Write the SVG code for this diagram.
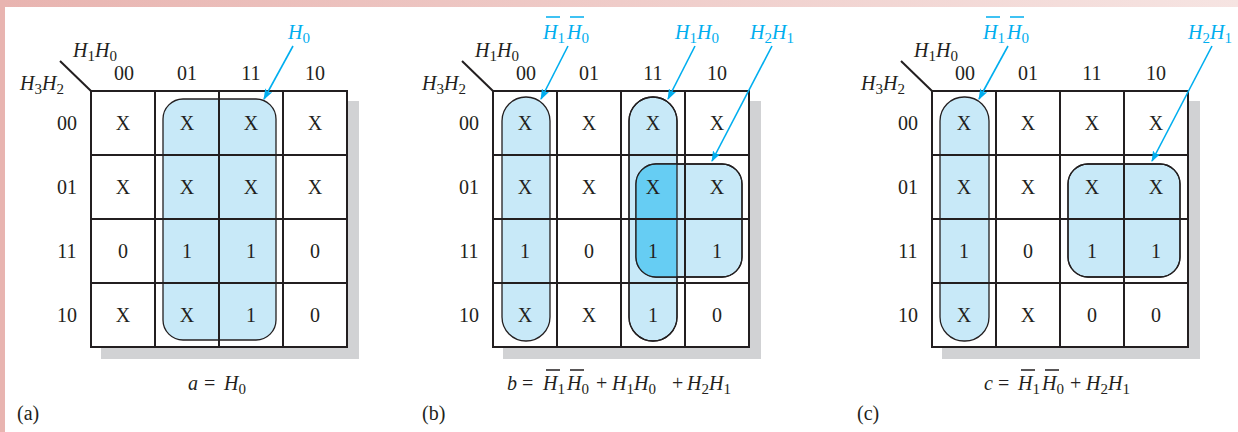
<svg xmlns="http://www.w3.org/2000/svg" width="1238" height="432" viewBox="0 0 1238 432">
<defs>
<linearGradient id="pinkband" x1="0" y1="0" x2="1" y2="0">
<stop offset="0" stop-color="#e8b4b0"/>
<stop offset="1" stop-color="#f6e4e2"/>
</linearGradient>
<marker id="ah" markerWidth="11" markerHeight="8" refX="10" refY="4" orient="auto" markerUnits="userSpaceOnUse">
<path d="M0,0 L11,4 L0,8 L2.5,4 z" fill="#00aeef"/>
</marker>
<clipPath id="clipSqB"><rect x="234" y="164" width="106" height="113" rx="20"/></clipPath>
<style>
.t{font-family:"Liberation Serif","Times New Roman",serif;font-size:20px;fill:#231f20}
.i{font-style:italic}
.s{font-size:15px;font-style:normal}
.blue{fill:#00aeef}
.c{text-anchor:middle}
.grid{fill:none;stroke:#231f20;stroke-width:2}
.shadow{fill:#d1d2d4}
.loop{fill:#c8e9f8;stroke:#231f20;stroke-width:1.3}
.dark{fill:#66cdf3}
.ol{fill:none;stroke:#231f20;stroke-width:1.3}
.arrow{stroke:#00aeef;stroke-width:1.6;fill:none;marker-end:url(#ah)}
.bar{stroke:#00aeef;stroke-width:1.3}
.barK{stroke:#231f20;stroke-width:1.3}
</style>
</defs>
<rect width="1238" height="432" fill="#ffffff"/>
<rect x="0" y="0" width="1238" height="7" fill="url(#pinkband)"/>
<rect x="0" y="0" width="5" height="432" fill="#e8b4b0"/>

<!-- Panel a -->
<g id="panel-a">
<rect class="shadow" x="101" y="101" width="258" height="258"/>
<rect x="91" y="91" width="256" height="256" fill="#fff"/>
<g id="loop-a-H0"><rect class="loop" x="163" y="99" width="113" height="241" rx="20"/></g>
<path class="grid" d="M91,91H347V347H91Z M155,91V347 M219,91V347 M283,91V347 M91,155H347 M91,219H347 M91,283H347"/>
<path class="grid" d="M60,61L91,91" stroke-width="1.6"/>
<text class="t i" x="73" y="57">H<tspan class="s" dy="4">1</tspan><tspan dy="-4">H</tspan><tspan class="s" dy="4">0</tspan></text>
<text class="t i" x="20" y="90">H<tspan class="s" dy="4">3</tspan><tspan dy="-4">H</tspan><tspan class="s" dy="4">2</tspan></text>
<g class="t c">
<text x="124" y="80">00</text><text x="187" y="80">01</text><text x="251" y="80">11</text><text x="315" y="80">10</text>
<text x="67" y="130">00</text><text x="67" y="194">01</text><text x="67" y="258">11</text><text x="67" y="322">10</text>
<text x="123" y="130">X</text><text x="187" y="130">X</text><text x="251" y="130">X</text><text x="315" y="130">X</text>
<text x="123" y="194">X</text><text x="187" y="194">X</text><text x="251" y="194">X</text><text x="315" y="194">X</text>
<text x="123" y="258">0</text><text x="187" y="258">1</text><text x="251" y="258">1</text><text x="315" y="258">0</text>
<text x="123" y="322">X</text><text x="187" y="322">X</text><text x="251" y="322">1</text><text x="315" y="322">0</text>
</g>
<text class="t i blue" x="288" y="39">H<tspan class="s" dy="4">0</tspan></text>
<text class="t" x="188" y="390"><tspan class="i">a</tspan><tspan x="204">=</tspan><tspan class="i" x="224">H</tspan><tspan class="s" dy="4">0</tspan></text>
<text class="t" x="17" y="420">(a)</text>
</g>

<!-- Panel b -->
<g id="panel-b" transform="translate(402,0)">
<rect class="shadow" x="101" y="101" width="258" height="258"/>
<rect x="91" y="91" width="256" height="256" fill="#fff"/>
<g id="loop-b-H1bH0b"><rect class="loop" x="100" y="97" width="48" height="244" rx="24"/></g>
<g id="loop-b-H1H0"><rect class="loop" x="227" y="97" width="48" height="244" rx="24"/></g>
<g id="loop-b-H2H1"><rect class="loop" x="234" y="164" width="106" height="113" rx="20"/></g>
<rect class="dark" x="227" y="97" width="48" height="244" rx="24" clip-path="url(#clipSqB)"/>
<path class="grid" d="M91,91H347V347H91Z M155,91V347 M219,91V347 M283,91V347 M91,155H347 M91,219H347 M91,283H347"/>
<rect class="ol" x="227" y="97" width="48" height="244" rx="24"/>
<rect class="ol" x="234" y="164" width="106" height="113" rx="20"/>
<path class="grid" d="M60,61L91,91" stroke-width="1.6"/>
<text class="t i" x="73" y="57">H<tspan class="s" dy="4">1</tspan><tspan dy="-4">H</tspan><tspan class="s" dy="4">0</tspan></text>
<text class="t i" x="20" y="90">H<tspan class="s" dy="4">3</tspan><tspan dy="-4">H</tspan><tspan class="s" dy="4">2</tspan></text>
<g class="t c">
<text x="124" y="80">00</text><text x="187" y="80">01</text><text x="251" y="80">11</text><text x="315" y="80">10</text>
<text x="67" y="130">00</text><text x="67" y="194">01</text><text x="67" y="258">11</text><text x="67" y="322">10</text>
<text x="123" y="130">X</text><text x="187" y="130">X</text><text x="251" y="130">X</text><text x="315" y="130">X</text>
<text x="123" y="194">X</text><text x="187" y="194">X</text><text x="251" y="194">X</text><text x="315" y="194">X</text>
<text x="123" y="258">1</text><text x="187" y="258">0</text><text x="251" y="258">1</text><text x="315" y="258">1</text>
<text x="123" y="322">X</text><text x="187" y="322">X</text><text x="251" y="322">1</text><text x="315" y="322">0</text>
</g>
<text class="t i blue" x="141" y="39">H<tspan class="s" dy="4">1</tspan><tspan dy="-4" x="165">H</tspan><tspan class="s" dy="4">0</tspan></text>
<path class="bar" d="M144,17H158 M168,17H182"/>
<text class="t i blue" x="273" y="39">H<tspan class="s" dy="4">1</tspan><tspan dy="-4">H</tspan><tspan class="s" dy="4">0</tspan></text>
<text class="t i blue" x="348" y="39">H<tspan class="s" dy="4">2</tspan><tspan dy="-4">H</tspan><tspan class="s" dy="4">1</tspan></text>
<text class="t" x="105" y="390"><tspan class="i">b</tspan><tspan x="120">=</tspan><tspan class="i" x="141">H</tspan><tspan class="s" dy="4">1</tspan><tspan class="i" dy="-4" x="165">H</tspan><tspan class="s" dy="4">0</tspan><tspan dy="-4" x="194">+</tspan><tspan class="i" x="210">H</tspan><tspan class="s" dy="4">1</tspan><tspan class="i" dy="-4">H</tspan><tspan class="s" dy="4">0</tspan><tspan dy="-4" x="270">+</tspan><tspan class="i" x="285">H</tspan><tspan class="s" dy="4">2</tspan><tspan class="i" dy="-4">H</tspan><tspan class="s" dy="4">1</tspan></text>
<path class="barK" d="M144,370H158 M168,370H182"/>
<text class="t" x="20" y="420">(b)</text>
</g>

<!-- Panel c -->
<g id="panel-c" transform="translate(841,0)">
<rect class="shadow" x="101" y="101" width="258" height="258"/>
<rect x="91" y="91" width="256" height="256" fill="#fff"/>
<g id="loop-c-H1bH0b"><rect class="loop" x="99" y="97" width="49" height="244" rx="24"/></g>
<g id="loop-c-H2H1"><rect class="loop" x="227" y="164" width="112" height="113" rx="20"/></g>
<path class="grid" d="M91,91H347V347H91Z M155,91V347 M219,91V347 M283,91V347 M91,155H347 M91,219H347 M91,283H347"/>
<rect class="ol" x="227" y="164" width="112" height="113" rx="20"/>
<path class="grid" d="M60,61L91,91" stroke-width="1.6"/>
<text class="t i" x="73" y="57">H<tspan class="s" dy="4">1</tspan><tspan dy="-4">H</tspan><tspan class="s" dy="4">0</tspan></text>
<text class="t i" x="20" y="90">H<tspan class="s" dy="4">3</tspan><tspan dy="-4">H</tspan><tspan class="s" dy="4">2</tspan></text>
<g class="t c">
<text x="124" y="80">00</text><text x="187" y="80">01</text><text x="251" y="80">11</text><text x="315" y="80">10</text>
<text x="67" y="130">00</text><text x="67" y="194">01</text><text x="67" y="258">11</text><text x="67" y="322">10</text>
<text x="123" y="130">X</text><text x="187" y="130">X</text><text x="251" y="130">X</text><text x="315" y="130">X</text>
<text x="123" y="194">X</text><text x="187" y="194">X</text><text x="251" y="194">X</text><text x="315" y="194">X</text>
<text x="123" y="258">1</text><text x="187" y="258">0</text><text x="251" y="258">1</text><text x="315" y="258">1</text>
<text x="123" y="322">X</text><text x="187" y="322">X</text><text x="251" y="322">0</text><text x="315" y="322">0</text>
</g>
<text class="t i blue" x="142" y="39">H<tspan class="s" dy="4">1</tspan><tspan dy="-4" x="166">H</tspan><tspan class="s" dy="4">0</tspan></text>
<path class="bar" d="M145,17H159 M169,17H183"/>
<text class="t i blue" x="347" y="39">H<tspan class="s" dy="4">2</tspan><tspan dy="-4">H</tspan><tspan class="s" dy="4">1</tspan></text>
<text class="t" x="143" y="390"><tspan class="i">c</tspan><tspan x="157">=</tspan><tspan class="i" x="177">H</tspan><tspan class="s" dy="4">1</tspan><tspan class="i" dy="-4" x="201">H</tspan><tspan class="s" dy="4">0</tspan><tspan dy="-4" x="229">+</tspan><tspan class="i" x="245">H</tspan><tspan class="s" dy="4">2</tspan><tspan class="i" dy="-4">H</tspan><tspan class="s" dy="4">1</tspan></text>
<path class="barK" d="M180,370H194 M204,370H218"/>
<text class="t" x="16" y="420">(c)</text>
</g>

<g id="connectors">
<line class="arrow" x1="293" y1="46" x2="264" y2="99"/>
<line class="arrow" x1="568" y1="46" x2="541" y2="99"/>
<line class="arrow" x1="695" y1="46" x2="668" y2="99"/>
<line class="arrow" x1="772" y1="46" x2="712" y2="161"/>
<line class="arrow" x1="1008" y1="46" x2="979" y2="99"/>
<line class="arrow" x1="1212" y1="46" x2="1152" y2="161"/>
</g>
</svg>
